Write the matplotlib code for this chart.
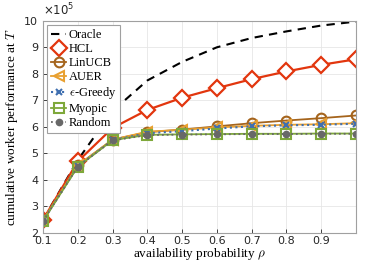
import matplotlib
matplotlib.use("Agg")
import matplotlib.pyplot as plt

plt.rcParams['mathtext.fontset'] = 'cm'

rho = [0.1, 0.2, 0.3, 0.4, 0.5, 0.6, 0.7, 0.8, 0.9, 1.0]

# values in units of 1e5
oracle = [2.5, 4.75, 6.6, 7.75, 8.45, 9.0, 9.35, 9.6, 9.82, 9.97]
hcl = [2.5, 4.7, 5.96, 6.64, 7.1, 7.46, 7.8, 8.09, 8.34, 8.55]
linucb = [2.48, 4.55, 5.52, 5.8, 5.9, 6.02, 6.14, 6.24, 6.33, 6.43]
auer = [2.48, 4.55, 5.52, 5.82, 5.89, 5.98, 6.04, 6.08, 6.1, 6.14]
egreedy = [2.46, 4.52, 5.5, 5.76, 5.84, 5.94, 6.02, 6.06, 6.08, 6.12]
myopic = [2.45, 4.5, 5.5, 5.7, 5.72, 5.73, 5.74, 5.74, 5.75, 5.75]
random_ = [2.45, 4.5, 5.49, 5.69, 5.71, 5.72, 5.73, 5.73, 5.74, 5.74]

fig = plt.figure(figsize=(3.82, 2.63), dpi=100)
ax = fig.add_axes([0.1126, 0.114, 0.8194, 0.807])

ax.plot(rho, oracle, '--', color='black', lw=1.5, dashes=(4, 3), label='Oracle')
ax.plot(rho, hcl, '-', color='#E2360E', lw=1.6, marker='D', ms=8, mfc='white',
        mew=1.6, label='HCL')
ax.plot(rho, linucb, '-', color='#A5641C', lw=1.3, marker='o', ms=7, mfc='none',
        mew=1.5, label='LinUCB')
ax.plot(rho, auer, '-', color='#E8A030', lw=1.3, marker='<', ms=7, mfc='none',
        mew=1.5, label='AUER')
ax.plot(rho, egreedy, ':', color='#3F6FB0', lw=1.5, marker='x', ms=5,
        mew=1.5, label=r'$\epsilon$-Greedy')
ax.plot(rho, myopic, '-', color='#7EA83A', lw=1.3, marker='s', ms=7, mfc='none',
        mew=1.5, label='Myopic')
ax.plot(rho, random_, ':', color='#686868', lw=1.3, marker='o', ms=4.5,
        label='Random')

ax.set_xlim(0.1, 1.0)
ax.set_ylim(2, 10)
ax.set_xticks([0.1, 0.2, 0.3, 0.4, 0.5, 0.6, 0.7, 0.8, 0.9, 1.0])
ax.set_xticklabels(['0.1', '0.2', '0.3', '0.4', '0.5', '0.6', '0.7', '0.8', '0.9', ''])
ax.set_yticks(range(2, 11))
ax.tick_params(direction='in', labelsize=8, colors='#262626', length=3,
               width=0.6)
ax.tick_params(axis='x', pad=2.5)
ax.tick_params(axis='y', pad=3.5)
ax.grid(True, color='#E6E6E6', lw=0.6)
for s in ax.spines.values():
    s.set_color('#A0A0A0')
    s.set_linewidth(0.8)

ax.set_xlabel(r'availability probability $\rho$', family='Liberation Serif',
              fontsize=9.5, labelpad=0)
ax.set_ylabel(r'cumulative worker performance at $T$', family='Liberation Serif',
              fontsize=9.5, labelpad=3)
ax.text(0.0, 1.01, r'$\times10^5$', transform=ax.transAxes, fontsize=8.5,
        color='#262626', ha='left', va='bottom', math_fontfamily='dejavusans')

leg = ax.legend(loc='upper left', prop={'family': 'Liberation Serif', 'size': 9},
                handlelength=1.2, handletextpad=0.2, labelspacing=0.16,
                borderpad=0.3, borderaxespad=0.35, fancybox=False,
                edgecolor='#A0A0A0', framealpha=1)
leg.get_frame().set_linewidth(0.8)

fig.savefig('out.png', dpi=100)
